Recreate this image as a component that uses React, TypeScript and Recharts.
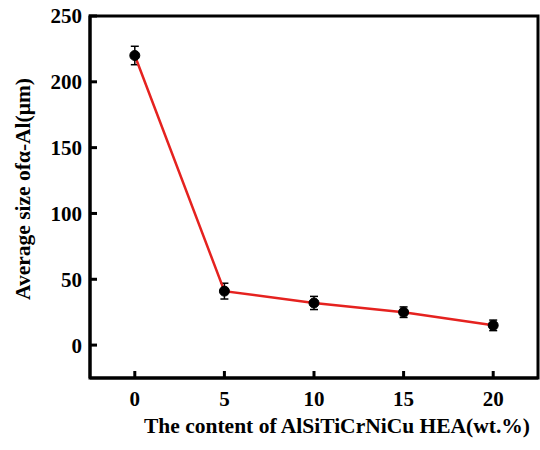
import { LineChart, Line, XAxis, YAxis, ErrorBar, Label, ReferenceArea } from "recharts";

const contents = [0, 5, 10, 15, 20];
const sizes = [220, 41, 32, 25, 15];
const errors = [7, 6, 5, 4, 4];
const xTicks = [0, 5, 10, 15, 20];
const yTicks = [0, 50, 100, 150, 200, 250];

const data = contents.map((c, i) => ({ x: c, size: sizes[i], err: errors[i] }));

const font = "Liberation Serif";

// inward tick marks drawn together with the labels
const XTick = (props: any) => {
  const { x, y, payload } = props;
  return (
    <g>
      <rect x={x - 1.5} y={y - 20} width={3} height={8} fill="#000" />
      <text x={x} y={y} dy="0.71em" textAnchor="middle" fontSize={21} fill="#000" fontFamily={font} fontWeight={700}>
        {payload.value}
      </text>
    </g>
  );
};

const YTick = (props: any) => {
  const { x, y, payload } = props;
  return (
    <g>
      <rect x={x + 7} y={y - 1.5} width={8} height={3} fill="#000" />
      <text x={x} y={y} dy="0.355em" textAnchor="end" fontSize={21} fill="#000" fontFamily={font} fontWeight={700}>
        {payload.value}
      </text>
    </g>
  );
};

const XTitle = ({ viewBox }: any) => (
  <text
    x={viewBox.x + viewBox.width / 2 + 23}
    y={viewBox.y + viewBox.height - 17}
    textAnchor="middle"
    fontSize={21.5}
    fill="#000"
    fontFamily={font}
    fontWeight={700}
  >
    The content of AlSiTiCrNiCu HEA(wt.%)
  </text>
);

const YTitle = ({ viewBox }: any) => {
  const cx = 30;
  const cy = viewBox.y + viewBox.height / 2 - 8;
  return (
    <text
      x={cx}
      y={cy}
      transform={`rotate(-90 ${cx} ${cy})`}
      textAnchor="middle"
      fontSize={21.5}
      fill="#000"
      fontFamily={font}
      fontWeight={700}
    >
      Average size ofα-Al(μm)
    </text>
  );
};

export default function App() {
  return (
    <div style={{ position: "absolute", left: 0, top: 0, background: "#fff" }}>
      <LineChart width={540} height={450} data={data} margin={{ top: 16, right: 2, left: 0, bottom: 0 }}>
        <XAxis
          dataKey="x"
          type="number"
          domain={[-2.5, 22.5]}
          ticks={xTicks}
          height={72}
          tickSize={0}
          tickMargin={13}
          axisLine={{ stroke: "#000", strokeWidth: 3 }}
          tickLine={false}
          tick={XTick}
        >
          <Label content={XTitle} />
        </XAxis>
        <YAxis
          type="number"
          domain={[-25, 250]}
          ticks={yTicks}
          width={90}
          tickSize={0}
          tickMargin={8}
          axisLine={{ stroke: "#000", strokeWidth: 3 }}
          tickLine={false}
          tick={YTick}
        >
          <Label content={YTitle} />
        </YAxis>
        {/* box frame */}
        <ReferenceArea
          x1={-2.5}
          x2={22.5}
          y1={-25}
          y2={250}
          fill="none"
          fillOpacity={0}
          stroke="#000"
          strokeWidth={3}
          strokeOpacity={1}
          ifOverflow="visible"
        />
        <Line
          dataKey="size"
          stroke="#e5221f"
          strokeWidth={2.5}
          dot={{ r: 5, fill: "#000", stroke: "#000", strokeWidth: 1 }}
          isAnimationActive={false}
        >
          <ErrorBar dataKey="err" direction="y" width={4} stroke="#000" strokeWidth={1.5} isAnimationActive={false} />
        </Line>
      </LineChart>
    </div>
  );
}
